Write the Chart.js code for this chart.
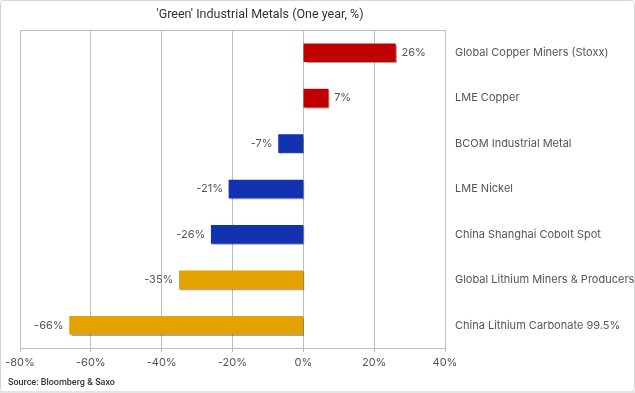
<!DOCTYPE html>
<html>
<head>
<meta charset="utf-8">
<script src="https://cdn.jsdelivr.net/npm/chart.js@4/dist/chart.umd.min.js"></script>
<style>
  html, body { margin: 0; padding: 0; background: #ffffff; }
  #wrap { width: 635px; height: 393px; position: relative; }
</style>
</head>
<body>
<div id="wrap"><canvas id="c" width="635" height="393"></canvas></div>
<script>
const categories = [
  "Global Copper Miners (Stoxx)",
  "LME Copper",
  "BCOM Industrial Metal",
  "LME Nickel",
  "China Shanghai Cobolt Spot",
  "Global Lithium Miners & Producers",
  "China Lithium Carbonate 99.5%"
];
const values = [26, 7, -7, -21, -26, -35, -66];
const barColors = ["#C00000", "#C00000", "#1232B2", "#1232B2", "#1232B2", "#E3A200", "#E3A200"];
const xTicks = [-80, -60, -40, -20, 0, 20, 40];
const titleText = "'Green' Industrial Metals (One year, %)";
const sourceText = "Source: Bloomberg & Saxo";

const FONT = "Inter, 'Open Sans', 'Liberation Sans', sans-serif";
const NFONT = "Roboto, 'Liberation Sans', sans-serif";

const decor = {
  id: 'decor',
  beforeDraw(chart) {
    const ctx = chart.ctx;
    ctx.save();
    ctx.fillStyle = '#ffffff';
    ctx.fillRect(0, 0, chart.width, chart.height);
    ctx.strokeStyle = '#d6d6d6';
    ctx.lineWidth = 1;
    ctx.beginPath();
    if (ctx.roundRect) ctx.roundRect(0.5, 0.5, chart.width - 1, chart.height - 2, 3);
    else ctx.rect(0.5, 0.5, chart.width - 1, chart.height - 2);
    ctx.stroke();
    ctx.fillStyle = '#e4e4e4';
    ctx.fillRect(0, chart.height - 2, chart.width, 2);
    ctx.restore();
  },
  beforeDatasetsDraw(chart) {
    const ctx = chart.ctx;
    ctx.save();
    ctx.shadowColor = 'rgba(0,0,0,0.35)';
    ctx.shadowOffsetX = 1;
    ctx.shadowOffsetY = 1;
    ctx.shadowBlur = 1;
  },
  afterDatasetsDraw(chart) {
    chart.ctx.restore();
  },
  afterDraw(chart) {
    const ctx = chart.ctx;
    const a = chart.chartArea;
    const xs = chart.scales.x, ys = chart.scales.y;
    ctx.save();
    // top border of plot
    ctx.strokeStyle = '#bdbdbd';
    ctx.lineWidth = 1;
    ctx.beginPath();
    ctx.moveTo(a.left, Math.round(a.top) + 0.5);
    ctx.lineTo(a.right, Math.round(a.top) + 0.5);
    ctx.stroke();
    // title
    ctx.fillStyle = '#333333';
    ctx.font = "12.5px " + NFONT;
    ctx.textAlign = 'center';
    ctx.textBaseline = 'middle';
    ctx.fillText(titleText, 260, 15);
    // category labels
    ctx.fillStyle = '#555555';
    ctx.font = "11px " + FONT;
    ctx.textAlign = 'left';
    categories.forEach((c, i) => {
      ctx.fillText(c, 455, ys.getPixelForValue(i));
    });
    // data labels
    const meta = chart.getDatasetMeta(0);
    values.forEach((v, i) => {
      const bar = meta.data[i];
      const xe = xs.getPixelForValue(v);
      const txt = v + '%';
      if (v >= 0) { ctx.textAlign = 'left'; ctx.fillText(txt, xe + 6, bar.y); }
      else { ctx.textAlign = 'right'; ctx.fillText(txt, xe - 6, bar.y); }
    });
    // source
    ctx.fillStyle = '#333333';
    ctx.font = "500 9px " + NFONT;
    ctx.textAlign = 'left';
    ctx.fillText(sourceText, 8, 383);
    ctx.restore();
  }
};

new Chart(document.getElementById('c'), {
  type: 'bar',
  data: {
    labels: categories,
    datasets: [{
      data: values,
      backgroundColor: barColors,
      borderWidth: 0,
      barThickness: 18,
      borderSkipped: false
    }]
  },
  options: {
    indexAxis: 'y',
    responsive: false,
    animation: false,
    devicePixelRatio: 1,
    layout: { padding: { left: 20, top: 30, right: 190, bottom: 0 } },
    plugins: { legend: { display: false }, title: { display: false }, tooltip: { enabled: false } },
    scales: {
      x: {
        min: -80, max: 40,
        afterBuildTicks(scale) { scale.ticks = xTicks.map(v => ({ value: v })); },
        afterFit(scale) { scale.height = 45; },
        grid: { color: '#bdbdbd', lineWidth: 1, tickLength: 4, drawTicks: true },
        border: { color: '#bdbdbd' },
        ticks: {
          color: '#555555',
          font: { size: 11, family: FONT },
          padding: 4,
          maxRotation: 0,
          callback: (v) => v + '%'
        }
      },
      y: {
        display: false
      }
    }
  },
  plugins: [decor]
});
</script>
</body>
</html>
